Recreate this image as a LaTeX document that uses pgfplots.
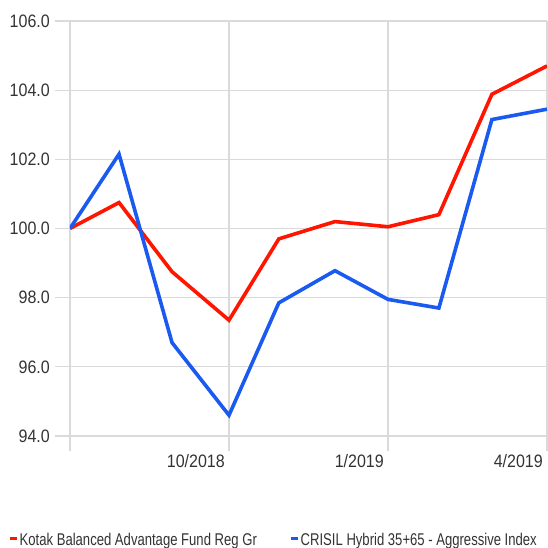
\documentclass[border=0pt]{standalone}
\usepackage{pgfplots}
\pgfplotsset{compat=1.18}
\usepackage{fontspec}
\setmainfont{Liberation Sans}
\newfontfamily\tickfont{Liberation Sans}[FakeStretch=0.89]
\newfontfamily\legfont{Liberation Sans}[FakeStretch=0.77]
\definecolor{gridgray}{HTML}{DADADA}
\definecolor{txt}{HTML}{333333}
\definecolor{fundred}{HTML}{FF1500}
\definecolor{idxblue}{HTML}{1A5AF0}
\pgfplotstableread{
x fund idx
0 100.00 100.00
0.925 100.75 102.15
1.925 98.75 96.70
3 97.35 94.60
3.94 99.70 97.85
5 100.20 98.78
6 100.05 97.95
6.96 100.40 97.70
7.96 103.88 103.15
9 104.70 103.45
}\datatable
\begin{document}
\begin{tikzpicture}
\path[use as bounding box] (0pt,0pt) rectangle (547pt,548pt);
\begin{axis}[
  at={(70pt,112pt)}, anchor=south west,
  scale only axis, width=477pt, height=415pt,
  xmin=0, xmax=9, ymin=94, ymax=106,
  axis line style={draw=none},
  xtick={0,3,6,9}, xticklabels={,10/2018,1/2019,4/2019},
  ytick={94,96,...,106},
  grid=major,
  grid style={gridgray, line width=1.3pt},
  major tick style={gridgray, line width=1.3pt},
  xmajorgrids, ymajorgrids,
  tick align=outside, major tick length=15pt,
  xtick pos=bottom, ytick pos=left,
  yticklabel={\pgfmathprintnumber[fixed,fixed zerofill,precision=1]{\tick}},
  /pgf/number format/assume math mode=true,
  yticklabel style={font=\tickfont\fontsize{18}{20}\selectfont, text=txt, anchor=east, inner sep=0pt, xshift=-5pt},
  xticklabel style={font=\tickfont\fontsize{18}{20}\selectfont, text=txt, anchor=north east, inner sep=0pt, xshift=-4pt, yshift=-3pt},
  legend style={at={(rel axis cs:-0.1300,-0.2506)}, anchor=west, draw=none, fill=none,
    font=\legfont\fontsize{17}{19}\selectfont, text=txt, inner sep=0pt,
    nodes={inner sep=1.5pt}, column sep=0pt},
  legend columns=2,
  legend image code/.code={\draw[#1, line width=3pt, line cap=butt] (0pt,1pt) -- (7pt,1pt);},
  clip=true,
]
\addplot[fundred, line width=3.6pt, mark=none] table[x=x, y=fund] {\datatable};
\addlegendentry{\makebox[268pt][l]{Kotak Balanced Advantage Fund Reg Gr}}
\addplot[idxblue, line width=3.6pt, mark=none] table[x=x, y=idx] {\datatable};
\addlegendentry{CRISIL Hybrid 35+65 - Aggressive Index}
\end{axis}
\end{tikzpicture}
\end{document}
